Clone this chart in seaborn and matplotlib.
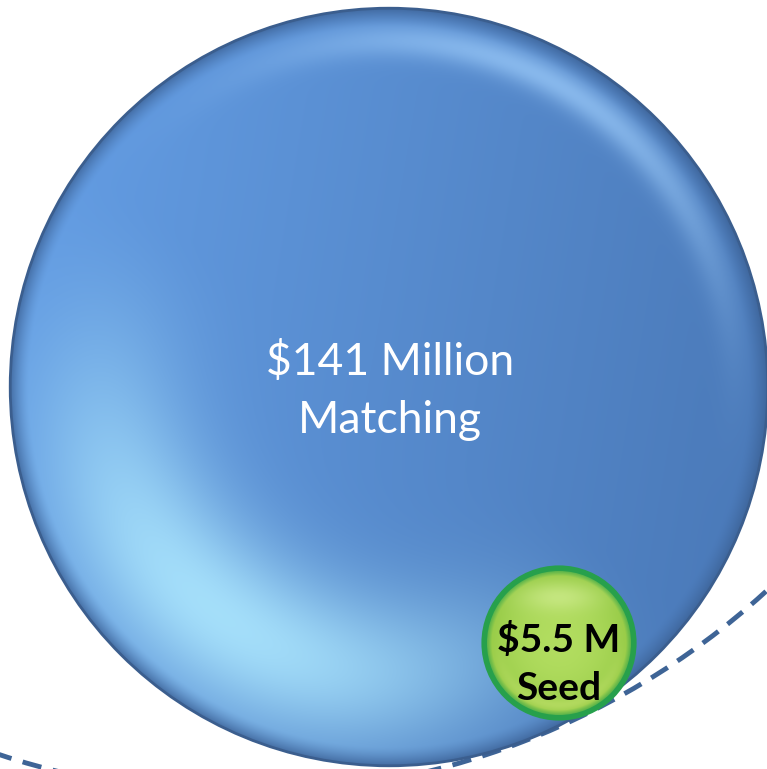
import numpy as np
import pandas as pd
import matplotlib
matplotlib.use("Agg")
import matplotlib.pyplot as plt
from matplotlib.patches import Circle
from matplotlib.colors import to_rgb
import seaborn as sns

# Datos (millones de USD)
labels = ["$141 Million\nMatching", "$5.5 M\nSeed"]
values = [141, 5.5]
total_value = 593  # contorno punteado, sin etiqueta

# Layout (pixeles)
W, H, DPI = 767, 769, 100
px_per_sqrt = 31.9
centers_x = [389, 559]
centers_y = [387, 643]
total_cx, total_cy = 243, 17

sns.set_theme(style="white")
plt.rcParams['font.family'] = ['Lato', 'DejaVu Sans']

fig = plt.figure(figsize=(W / DPI, H / DPI), dpi=DPI)
ax = fig.add_axes([0, 0, 1, 1])
ax.set_xlim(0, W)
ax.set_ylim(H, 0)
ax.axis("off")

radii = [px_per_sqrt * np.sqrt(v) for v in values]
total_r = px_per_sqrt * np.sqrt(total_value)


def mix(a, b, t):
    a = np.array(to_rgb(a)); b = np.array(to_rgb(b))
    t = np.clip(t, 0, 1)[..., None]
    return a * (1 - t) + b * t


def blend(img, col, t):
    t = np.clip(t, 0, 1)[..., None]
    return img * (1 - t) + np.array(to_rgb(col)) * t


def shade_blue(dx, dy, rho):
    ang = np.arctan2(dy, dx)
    img = mix("#659fe6", "#4a79b8", (dx + 1) / 2 * 0.9 + (dy + 1) / 2 * 0.15)
    # brillo inferior izquierdo
    w = np.clip(np.cos(ang - np.arctan2(0.8, -0.6)), 0, 1) ** 1.6
    glow = w * np.exp(-((rho - 0.75) / 0.22) ** 2)
    img = blend(img, "#aee9ff", glow * 0.88)
    # reflejo superior derecho
    w1 = np.clip(np.cos(ang - np.arctan2(-0.86, 0.45)), 0, 1) ** 3
    rim = w1 * np.exp(-((rho - 0.915) / 0.045) ** 2)
    img = blend(img, "#a3d2ff", rim * 0.65)
    # borde oscuro
    e = np.clip((rho - 0.95) / 0.05, 0, 1) ** 1.5
    img = blend(img, "#3c6296", e * 0.8)
    return img


def shade_green(dx, dy, rho):
    img = mix("#b2dd60", "#94c944", rho ** 2)
    top = np.exp(-((dx / 0.55) ** 2 + ((dy + 0.62) / 0.2) ** 2))
    img = blend(img, "#dcf3a0", top * 0.55)
    low = np.clip(dy, 0, 1) * np.exp(-((rho - 0.83) / 0.08) ** 2)
    img = blend(img, "#cfe878", low * 0.5)
    e = np.clip((rho - 0.9) / 0.1, 0, 1)
    img = blend(img, "#3aa84c", e)
    return img


# contorno punteado (total)
ax.add_patch(Circle((total_cx, total_cy), total_r, fill=False, ec="#3e6496",
                    lw=3.5, ls=(0, (4, 2.4)), zorder=1))

shaders = [shade_blue, shade_green]
edge_colors = ["#3b5e8e", "#27a04c"]
edge_widths = [2.0, 4.0]
df = pd.DataFrame({"x": centers_x, "y": centers_y, "value": values, "label": labels})

for i, row in df.iterrows():
    cx, cy, r = row.x, row.y, radii[i]
    n = int(2 * r) + 2
    g = np.linspace(-1, 1, n)
    dx, dy = np.meshgrid(g, g)
    rho = np.hypot(dx, dy)
    img = np.clip(shaders[i](dx, dy, rho), 0, 1)
    clip = Circle((cx, cy), r, transform=ax.transData)
    im = ax.imshow(img, extent=(cx - r, cx + r, cy + r, cy - r), origin="upper",
                   interpolation="bilinear", zorder=2 + 2 * i)
    im.set_clip_path(clip)
    s = (2 * r * 72 / DPI) ** 2
    sns.scatterplot(data=df.iloc[[i]], x="x", y="y", s=s, facecolor="none",
                    edgecolor=edge_colors[i], linewidth=edge_widths[i], ax=ax,
                    zorder=3 + 2 * i, legend=False)

ax.set_xlim(0, W)
ax.set_ylim(H, 0)
ax.axis("off")

ax.text(centers_x[0] + 1, centers_y[0] + 4, labels[0], color="white", fontsize=32,
        ha="center", va="center", linespacing=1.5, zorder=10)
ax.text(centers_x[1], centers_y[1] + 21, labels[1], color="black", fontsize=28,
        fontweight="bold", ha="center", va="center", linespacing=1.45, zorder=10)

fig.savefig("out.png", dpi=DPI)
